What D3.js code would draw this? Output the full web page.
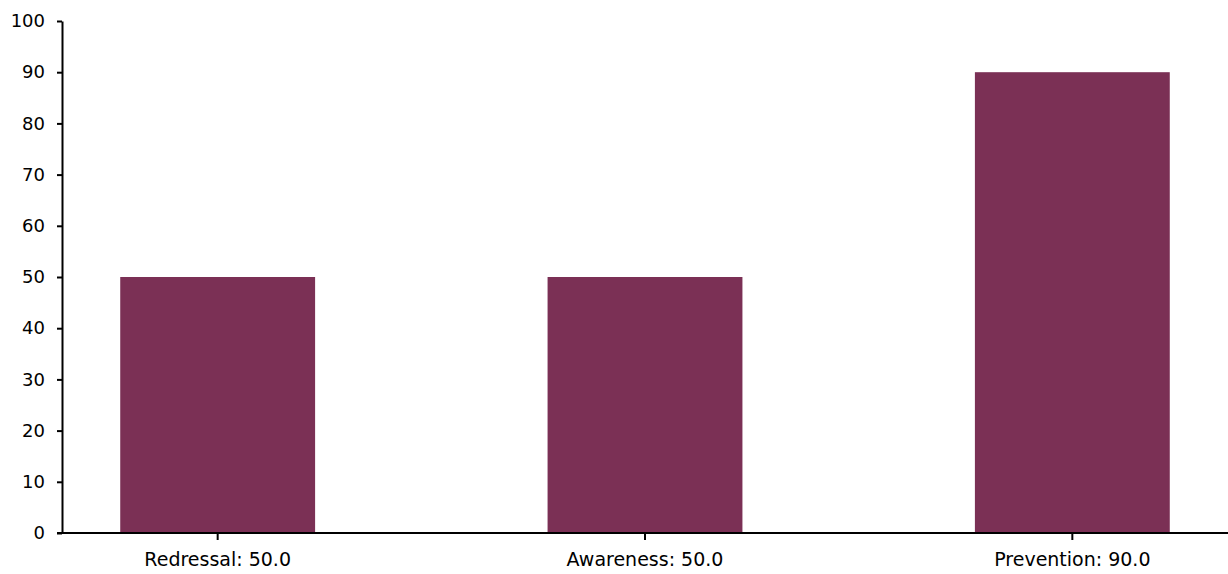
<!DOCTYPE html>
<html><head><meta charset="utf-8">
<script src="https://cdn.jsdelivr.net/npm/d3@7"></script>
<style>body{margin:0;background:#fff;} text{font-family:"DejaVu Sans", sans-serif;}</style>
</head><body>
<svg id="c" width="1228" height="574"></svg>
<script>
const categories = ["Redressal", "Awareness", "Prevention"];
const values = [50.0, 50.0, 90.0];
const yTicks = [0,10,20,30,40,50,60,70,80,90,100];

const svg = d3.select("#c");
const x = d3.scaleBand().domain(categories).range([4, 1286]).paddingInner(0.544).paddingOuter(0.272);
const y = d3.scaleLinear().domain([0, 100]).range([533, 21]);
const color = "#7b3055";

svg.selectAll("rect.bar").data(categories).join("rect").attr("class","bar")
  .attr("x", d => x(d)).attr("width", x.bandwidth())
  .attr("y", (d,i) => y(values[i])).attr("height", (d,i) => y(0) - y(values[i]))
  .attr("fill", color);

const ya = svg.append("g").attr("transform","translate(62,0)")
  .call(d3.axisLeft(y).tickValues(yTicks).tickSize(5).tickSizeOuter(0).tickPadding(12));
ya.attr("font-family", null).attr("font-size", null);
ya.select(".domain").attr("stroke","#000").attr("stroke-width",2);
ya.selectAll(".tick line").attr("stroke","#000").attr("stroke-width",2);
ya.selectAll(".tick text").attr("fill","#000").style("font-size","18px").style("font-family","'DejaVu Sans', sans-serif");

const xa = svg.append("g").attr("transform","translate(0,533)")
  .call(d3.axisBottom(x).tickSize(7).tickSizeOuter(0).tickPadding(13)
    .tickFormat((d,i) => d + ": " + values[i].toFixed(1)));
xa.attr("font-family", null).attr("font-size", null);
xa.select(".domain").attr("d","M57,0H1228").attr("stroke","#000").attr("stroke-width",2);
xa.selectAll(".tick line").attr("stroke","#000").attr("stroke-width",2);
xa.selectAll(".tick text").attr("fill","#000").style("font-size","19px").style("font-family","'DejaVu Sans', sans-serif");
</script>
</body></html>
